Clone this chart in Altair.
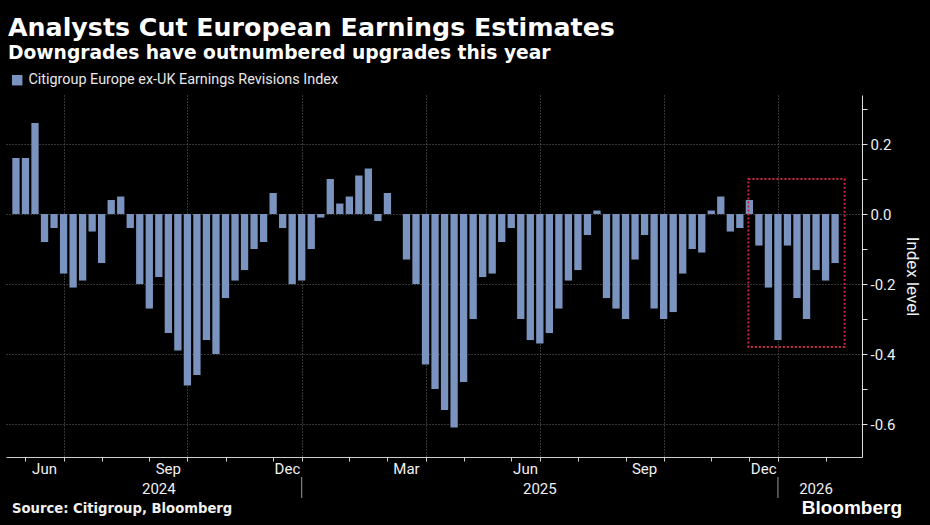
import altair as alt
import pandas as pd

# ---- data ----
values = [0.16, 0.16, 0.26, -0.08, -0.04, -0.17, -0.21, -0.19, -0.05, -0.14,
          0.04, 0.05, -0.04, -0.20, -0.27, -0.18, -0.34, -0.39, -0.49, -0.46,
          -0.36, -0.40, -0.24, -0.19, -0.16, -0.10, -0.08, 0.06, -0.04, -0.20,
          -0.19, -0.10, -0.01, 0.10, 0.03, 0.05, 0.11, 0.13, -0.02, 0.06,
          0.00, -0.13, -0.20, -0.43, -0.50, -0.56, -0.61, -0.48, -0.30, -0.18,
          -0.17, -0.08, -0.04, -0.30, -0.36, -0.37, -0.34, -0.27, -0.19, -0.16,
          -0.06, 0.01, -0.24, -0.27, -0.30, -0.13, -0.06, -0.27, -0.30, -0.28,
          -0.17, -0.10, -0.11, 0.01, 0.05, -0.05, -0.04, 0.04, -0.09, -0.21,
          -0.36, -0.09, -0.24, -0.30, -0.16, -0.19, -0.14]
week_index = list(range(1, len(values) + 1))
series_name = "Citigroup Europe ex-UK Earnings Revisions Index"

# first bar of each month (Jun 2024 ... Feb 2026)
month_start_idx = [2, 6, 10, 15, 19, 23, 28, 31, 36, 40, 44, 48, 53, 56, 60, 65, 69, 74, 78, 81, 86]
quarter_grid_idx = [6, 19, 31, 44, 56, 69, 81]
month_labels = ["Jun", "Sep", "Dec", "Mar", "Jun", "Sep", "Dec"]
month_label_pos = [4, 17, 29.5, 42, 54.5, 67, 79.5]
year_labels = ["2024", "2025", "2026"]
year_label_pos = [16, 56, 85]
year_break_idx = [31, 81]

y_ticks = [-0.6, -0.5, -0.4, -0.3, -0.2, -0.1, 0.0, 0.1, 0.2, 0.3]

box_x = [77.9, 88.0]
box_y = [0.10, -0.38]

# ---- layout ----
W, H = 856, 362
FONT = "Roboto"
BOLD_FONT = "DejaVu Sans"
BAR = "#7b94bf"
TXT = "#f0f0f0"

df = pd.DataFrame({"idx": week_index, "value": values, "series": series_name})
x_scale = alt.Scale(domain=[0.48, 89.3], nice=False, zero=False)
y_scale = alt.Scale(domain=[-0.694, 0.34], nice=False, zero=False)

grid_test_x = "indexof([" + ",".join(str(v) for v in quarter_grid_idx) + "], datum.value) < 0"

bars = alt.Chart(df).mark_bar(width=7.3).encode(
    x=alt.X("idx:Q", scale=x_scale, title=None,
            axis=alt.Axis(values=month_start_idx, labels=False, ticks=True, tickSize=4,
                          tickColor="#cfcfcf", domainColor="#cfcfcf", domainWidth=1,
                          grid=True, gridColor="#6a6a6a", gridDash=[1, 2], gridWidth=1,
                          gridOpacity={"condition": {"test": grid_test_x, "value": 0}, "value": 1})),
    y=alt.Y("value:Q", scale=y_scale, title="Index level",
            axis=alt.Axis(orient="right", values=y_ticks,
                          labelExpr="round(datum.value*10) % 2 == 0 ? replace(format(datum.value, '.1f'), '\u2212', '-') : ''",
                          tickSize=5, tickColor="#e0e0e0", domainColor="#e0e0e0",
                          labelFont=FONT, labelFontSize=15, labelColor=TXT, labelPadding=3,
                          titleFont=FONT, titleFontSize=17, titleFontWeight="normal",
                          titleColor=TXT, titlePadding=8,
                          grid=True, gridColor="#6a6a6a", gridDash=[1, 2], gridWidth=1,
                          gridOpacity={"condition": {"test": "round(datum.value*10) % 2 != 0", "value": 0}, "value": 1})),
    color=alt.Color("series:N", scale=alt.Scale(range=[BAR]),
                    legend=alt.Legend(orient="none", legendX=4, legendY=-22, title=None,
                                      symbolType="square", symbolSize=110, symbolStrokeWidth=0,
                                      labelFont=FONT, labelFontSize=14.4, labelColor="#e8e8e8",
                                      labelLimit=500, symbolOffset=0)),
)

box_df = pd.DataFrame({"x1": [box_x[0]], "x2": [box_x[1]], "y1": [box_y[0]], "y2": [box_y[1]]})
box = alt.Chart(box_df).mark_rect(fill=None, stroke="#d0243c", strokeWidth=2, strokeDash=[2, 2]).encode(
    x=alt.X("x1:Q", scale=x_scale), x2="x2:Q",
    y=alt.Y("y1:Q", scale=y_scale), y2="y2:Q")

mdf = pd.DataFrame({"pos": month_label_pos, "label": month_labels})
months = alt.Chart(mdf).mark_text(font=FONT, fontSize=15, color=TXT, baseline="middle").encode(
    x=alt.X("pos:Q", scale=x_scale), y=alt.value(H + 12), text="label:N")

ydf = pd.DataFrame({"pos": year_label_pos, "label": year_labels})
years = alt.Chart(ydf).mark_text(font=FONT, fontSize=15, color=TXT, baseline="middle").encode(
    x=alt.X("pos:Q", scale=x_scale), y=alt.value(H + 32), text="label:N")

bdf = pd.DataFrame({"pos": year_break_idx})
breaks = alt.Chart(bdf).mark_rule(color="#9a9a9a", strokeWidth=1).encode(
    x=alt.X("pos:Q", scale=x_scale), y=alt.value(H + 20), y2=alt.value(H + 41))

src = alt.Chart(pd.DataFrame({"t": ["Source: Citigroup, Bloomberg"]})).mark_text(
    font=BOLD_FONT, fontSize=13.2, fontWeight="bold", color=TXT, align="left", baseline="middle"
).encode(x=alt.value(6), y=alt.value(H + 52), text="t:N")

logo = alt.Chart(pd.DataFrame({"t": ["Bloomberg"]})).mark_text(
    font="Liberation Sans", fontSize=19, fontWeight="bold", color="#ffffff", align="right", baseline="middle"
).encode(x=alt.value(896), y=alt.value(H + 51), text="t:N")

chart = alt.layer(bars, box, months, years, breaks, src, logo).properties(
    width=W, height=H,
    title=alt.TitleParams(
        text="Analysts Cut European Earnings Estimates",
        subtitle="Downgrades have outnumbered upgrades this year",
        anchor="start", frame="group", offset=10, dx=2,
        font=BOLD_FONT, fontSize=25.3, fontWeight="bold", color="#ffffff",
        subtitleFont=BOLD_FONT, subtitleFontSize=18.7, subtitleFontWeight="bold",
        subtitleColor="#ffffff", subtitlePadding=3),
    autosize=alt.AutoSizeParams(type="none"),
    padding={"left": 6, "top": 95, "right": 68, "bottom": 68},
    background="#000000",
).configure_view(stroke=None)

chart.save("out.html", embed_options={"renderer": "svg", "actions": False})
